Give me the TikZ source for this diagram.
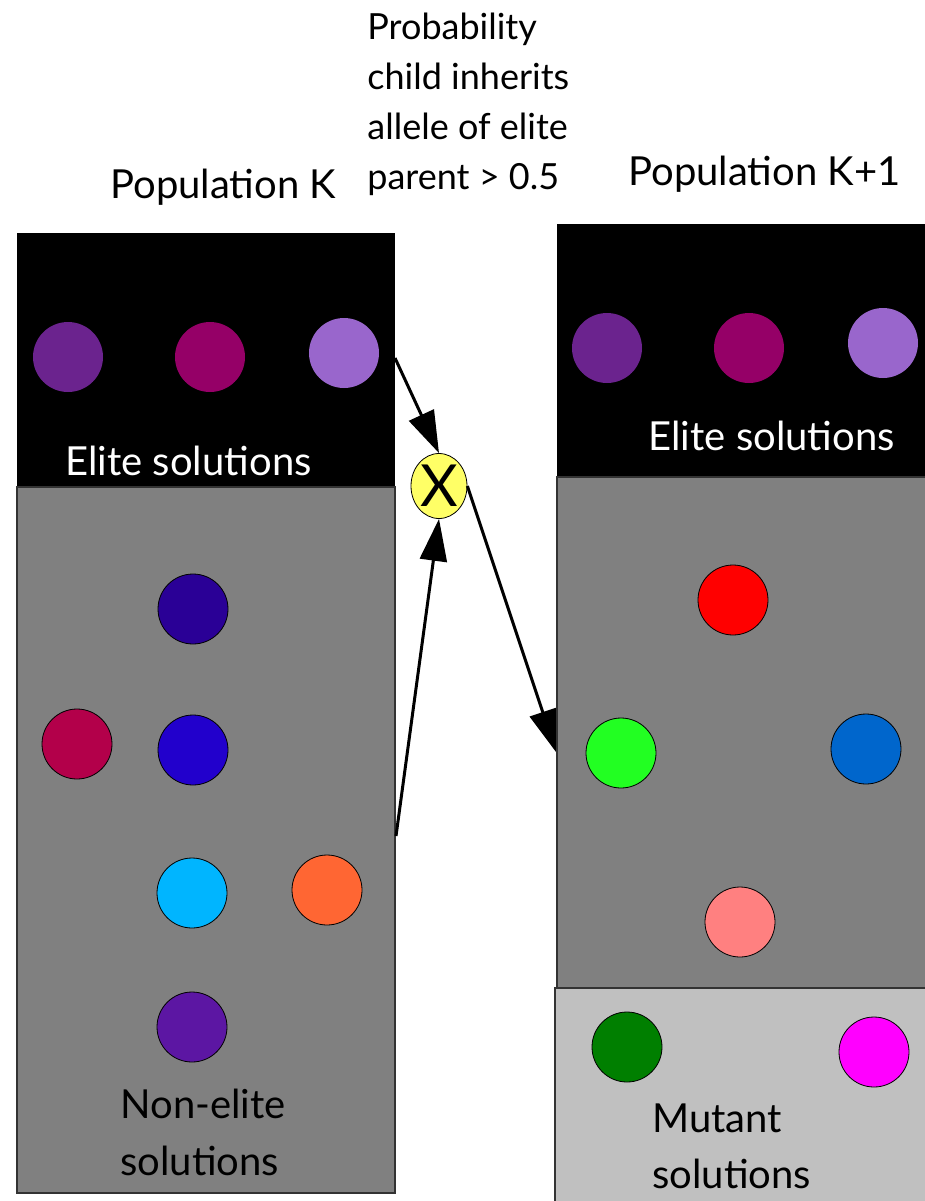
\documentclass[tikz,border=0pt]{standalone}
\usepackage{fontspec}
\setmainfont{Lato}
\usetikzlibrary{arrows.meta,shapes.geometric}

\definecolor{boxgray}{HTML}{808080}
\definecolor{mutgray}{HTML}{C0C0C0}
\definecolor{crossyellow}{HTML}{FFFF66}

\newcommand*{\dotsize}{35pt}
\newcommand*{\labelfont}{\fontsize{20}{28}\selectfont}

\begin{document}
\begin{tikzpicture}
[
	x=0.5pt,y=-0.5pt,
	sol/.style={circle,draw=black,line width=0.4pt,inner sep=0pt,minimum size=\dotsize},
	popbox/.style={draw={black!80},line width=0.6pt},
	lbl/.style={anchor=base west,inner sep=0pt,font=\labelfont},
	conn/.style={-{Triangle[length=21pt,width=13.5pt]},line width=1.5pt},
]
	\useasboundingbox (0,0) rectangle (925,1201);

	% population K
	\fill[black] (17,233) rectangle (395,487);
	\draw[popbox,fill=boxgray] (17,487) rectangle (395,1193);

	% population K+1
	\fill[black] (557,224) rectangle (930,477);
	\draw[popbox,fill=boxgray] (557,477) rectangle (930,988);
	\draw[popbox,fill=mutgray] (555,988) rectangle (930,1210);

	% solutions of population K
	\foreach \c/\x/\y [count=\i] in {
		6B238E/68/357, 950067/210/357, 9966CC/344/353}
		{\definecolor{dot}{HTML}{\c}
		\node[sol,draw=none,fill=dot] (ek\i) at (\x,\y) {};}
	\foreach \c/\x/\y [count=\i] in {
		2A0096/193/609, B3004A/77/744, 2200CC/193/750,
		00B5FF/192/893, FF6633/327/890, 5C16A3/192/1027}
		{\definecolor{dot}{HTML}{\c}
		\node[sol,fill=dot] (nk\i) at (\x,\y) {};}

	% solutions of population K+1
	\foreach \c/\x/\y [count=\i] in {
		6B238E/607/348, 950067/749/348, 9966CC/883/343}
		{\definecolor{dot}{HTML}{\c}
		\node[sol,draw=none,fill=dot] (en\i) at (\x,\y) {};}
	\foreach \c/\x/\y [count=\i] in {
		FF0000/733/600, 22FF22/621/753, 0066CC/866/749, FF8080/740/922}
		{\definecolor{dot}{HTML}{\c}
		\node[sol,fill=dot] (nn\i) at (\x,\y) {};}
	\foreach \c/\x/\y [count=\i] in {
		007F00/627/1047, FF00FF/874/1052}
		{\definecolor{dot}{HTML}{\c}
		\node[sol,fill=dot] (mn\i) at (\x,\y) {};}

	% labels (multi-line ones sit on their last baseline)
	\node[lbl] (popk) at (110,198) {Population K};
	\node[lbl] (popn) at (628,185) {Population K+1};
	\node[lbl,white] (elk) at (65,475) {Elite solutions};
	\node[lbl,white] (eln) at (648,450) {Elite solutions};
	\node[lbl,align=left] (nonk) at (120,1175) {Non-elite\\[0.5pt]solutions};
	\node[lbl,align=left] (mutn) at (652,1188) {Mutant\\solutions};
	\node[lbl,align=left,font=\fontsize{18}{25}\selectfont] (prob) at (367,189)
		{Probability\\child inherits\\allele of elite\\parent > 0.5};

	% crossover
	\node[ellipse,draw,fill=crossyellow,inner sep=0pt,minimum width=28pt,minimum height=32.5pt,
		font=\fontsize{29}{29}\selectfont] (cross) at (439,486) {X};

	\coordinate (fromelite) at (395,358);
	\coordinate (fromrest) at (396,836);
	\coordinate (tonext) at (556,752);

	\draw[conn] (fromelite) -- (cross.north);
	\draw[conn] (fromrest) -- (cross.south);
	\draw[conn] (cross.east) -- (tonext);

\end{tikzpicture}
\end{document}
